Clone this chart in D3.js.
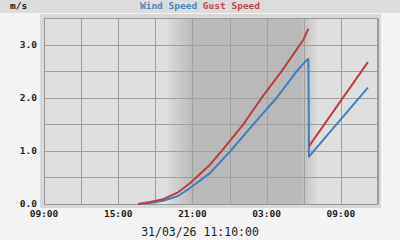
<!DOCTYPE html>
<html>
<head>
<meta charset="utf-8">
<script src="https://cdn.jsdelivr.net/npm/d3@7"></script>
<style>
  html, body { margin: 0; padding: 0; background: #f4f4f4; }
  svg { display: block; font-family: "DejaVu Sans Mono", monospace; }
</style>
</head>
<body>
<svg width="400" height="240"></svg>
<script>
// readings, 30/03 -> 31/03
const windTimes = ["30 16:37", "30 17:35", "30 18:38", "30 19:50", "30 20:48", "30 22:25", "31 00:05", "31 01:55",
  "31 03:49", "31 05:26", "31 06:17", "31 06:22", "31 06:24", "31 06:25", "31 11:11"];
const windSpeed = [0.00, 0.02, 0.06, 0.15, 0.30, 0.58, 1.00, 1.50,
  2.00, 2.50, 2.72, 2.73, 1.83, 0.89, 2.19];

const gustTimes = ["30 16:37", "30 17:35", "30 18:38", "30 19:50", "30 20:48", "30 22:25", "30 23:22", "31 01:07",
  "31 02:36", "31 04:13", "31 05:58", "31 06:22", "31 06:23", "31 06:24", "31 11:11"];
const gustSpeed = [0.00, 0.04, 0.09, 0.22, 0.39, 0.74, 1.00, 1.50,
  2.00, 2.50, 3.09, 3.30, null, 1.08, 2.67];

const xTicks = ["30 09:00", "30 15:00", "30 21:00", "31 03:00", "31 09:00"];
const yTicks = [0, 1, 2, 3];
const night = ["30 18:50", "30 21:00", "31 05:45", "31 07:10"]; // dusk start, dark, dark end, dawn end
const xDomain = ["30 09:00", "31 12:00"];

const parse = d3.timeParse("%d %H:%M");
const toDate = (s) => { const d = parse(s); d.setFullYear(2026, 2, d.getDate()); return d; };

const svg = d3.select("svg");
const L = 44, R = 378, T = 18, B = 204;

let x = d3.scaleTime().domain(xDomain.map(toDate)).range([L, R]);
let y = d3.scaleLinear().domain([0, 3.5]).range([B, T]);

// header bar
svg.append("rect").attr("x", 0).attr("y", 0).attr("width", 400).attr("height", 13).attr("fill", "#dcdcdc");
svg.append("text").attr("x", 10).attr("y", 9).attr("font-size", 9.5).attr("font-weight", "bold")
  .attr("fill", "#222").text("m/s");
let title = svg.append("text").attr("x", 200).attr("y", 9).attr("font-size", 9.5).attr("text-anchor", "middle")
  .attr("font-weight", "bold");
title.append("tspan").attr("fill", "#4a86be").text("Wind Speed ");
title.append("tspan").attr("fill", "#c04848").text("Gust Speed");

// frame + plot area
svg.append("rect").attr("x", 40).attr("y", 14).attr("width", 341).attr("height", 194).attr("fill", "#d8d8d8");

let defs = svg.append("defs");
let grad = defs.append("linearGradient").attr("id", "night")
  .attr("gradientUnits", "userSpaceOnUse").attr("x1", L).attr("x2", R).attr("y1", 0).attr("y2", 0);
const stops = [[night[0], "#dfdfdf"], [night[1], "#b9b9b9"], [night[2], "#b9b9b9"], [night[3], "#dfdfdf"]];
stops.forEach(([t, c]) => {
  grad.append("stop").attr("offset", (x(toDate(t)) - L) / (R - L)).attr("stop-color", c);
});
svg.append("rect").attr("x", L).attr("y", T).attr("width", R - L).attr("height", B - T).attr("fill", "url(#night)");

// grid
const vGrid = d3.range(0, 10).map((i) => d3.timeHour.offset(toDate(xDomain[0]), i * 3));
svg.append("g").selectAll("line").data(vGrid).join("line")
  .attr("x1", (d) => Math.round(x(d)) + 0.5).attr("x2", (d) => Math.round(x(d)) + 0.5)
  .attr("y1", T).attr("y2", B).attr("stroke", "#a0a0a0");
const hGrid = d3.range(0, 3.51, 0.5);
svg.append("g").selectAll("line").data(hGrid).join("line")
  .attr("x1", L).attr("x2", R)
  .attr("y1", (d) => Math.round(y(d)) + 0.5).attr("y2", (d) => Math.round(y(d)) + 0.5)
  .attr("stroke", "#a0a0a0");
svg.append("rect").attr("x", L + 0.5).attr("y", T + 0.5).attr("width", R - L - 1).attr("height", B - T)
  .attr("fill", "none").attr("stroke", "#999");

// axes labels
svg.append("g").selectAll("text").data(xTicks).join("text")
  .attr("x", (d) => x(toDate(d))).attr("y", 217).attr("text-anchor", "middle")
  .attr("font-size", 9.5).attr("font-weight", "bold").attr("fill", "#222")
  .text((d) => d.slice(3));
svg.append("g").selectAll("text").data(yTicks).join("text")
  .attr("x", 37).attr("y", (d) => y(d) + 3).attr("text-anchor", "end")
  .attr("font-size", 9.5).attr("font-weight", "bold").attr("fill", "#222")
  .text((d) => d3.format(".1f")(d));
svg.append("text").attr("x", 200).attr("y", 236).attr("text-anchor", "middle")
  .attr("font-size", 11.5).attr("fill", "#222").text("31/03/26 11:10:00");

// series
let line = d3.line().defined((d) => d[1] != null)
  .x((d) => x(d[0])).y((d) => y(d[1]));
const windData = windTimes.map((t, i) => [toDate(t), windSpeed[i]]);
const gustData = gustTimes.map((t, i) => [toDate(t), gustSpeed[i]]);

svg.append("path").datum(windData).attr("d", line)
  .attr("fill", "none").attr("stroke", "#3f80bd").attr("stroke-width", 2).attr("stroke-linejoin", "round");
svg.append("path").datum(gustData).attr("d", line)
  .attr("fill", "none").attr("stroke", "#bb3f3f").attr("stroke-width", 2).attr("stroke-linejoin", "round");
</script>
</body>
</html>
